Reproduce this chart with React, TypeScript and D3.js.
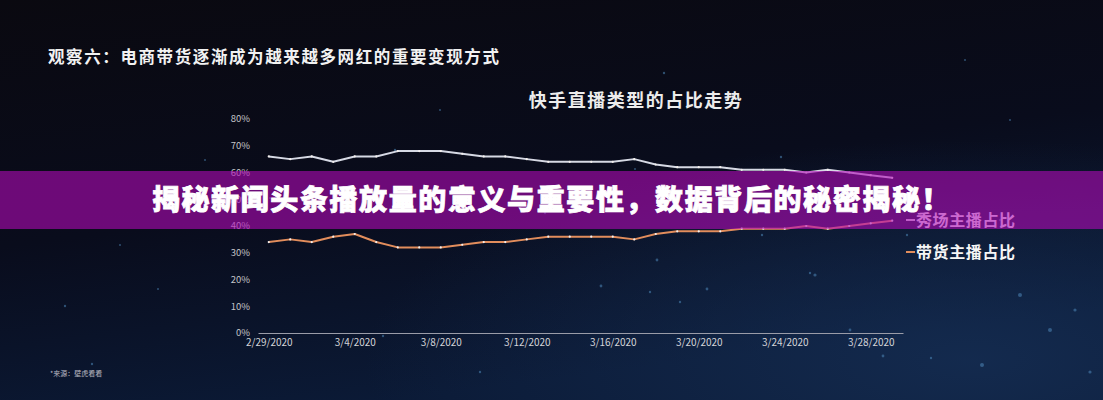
import { useEffect, useRef } from 'react';
import * as d3 from 'd3';

// 日期（2/29/2020 - 3/29/2020）
const dates = [
  '2020-02-29', '2020-03-01', '2020-03-02', '2020-03-03', '2020-03-04', '2020-03-05',
  '2020-03-06', '2020-03-07', '2020-03-08', '2020-03-09', '2020-03-10', '2020-03-11',
  '2020-03-12', '2020-03-13', '2020-03-14', '2020-03-15', '2020-03-16', '2020-03-17',
  '2020-03-18', '2020-03-19', '2020-03-20', '2020-03-21', '2020-03-22', '2020-03-23',
  '2020-03-24', '2020-03-25', '2020-03-26', '2020-03-27', '2020-03-28', '2020-03-29',
];

// 秀场主播占比 (%)
const showHostShare = [
  66, 65, 66, 64, 66, 66, 68, 68, 68, 67, 66, 66, 65, 64, 64,
  64, 64, 65, 63, 62, 62, 62, 61, 61, 61, 60, 61, 60, 59, 58,
];

// 带货主播占比 (%)
const salesHostShare = [
  34, 35, 34, 36, 37, 34, 32, 32, 32, 33, 34, 34, 35, 36, 36,
  36, 36, 35, 37, 38, 38, 38, 39, 39, 39, 40, 39, 40, 41, 42,
];

const yTicks = [0, 10, 20, 30, 40, 50, 60, 70, 80];
const xTickEvery = 4;

const seriesNames = ['秀场主播占比', '带货主播占比'];

const titleText = '观察六：电商带货逐渐成为越来越多网红的重要变现方式';
const chartTitle = '快手直播类型的占比走势';
const bannerText = '揭秘新闻头条播放量的意义与重要性，数据背后的秘密揭秘！';
const sourceText = '*来源：壁虎看看';

// 背景装饰星点（仅装饰）
const stars: [number, number, number][] = [
  [395, 150, 1.2], [573, 93, 1], [664, 73, 1.2], [781, 157, 1.2], [635, 169, 1],
  [545, 213, 1.2], [657, 260, 1.4], [601, 286, 1.4], [650, 292, 1.2], [762, 235, 1.2],
  [815, 275, 1.6], [810, 273, 1.2], [680, 302, 1.2], [707, 289, 1.4], [907, 235, 1.2],
  [883, 356, 1.4], [931, 358, 1.2], [1020, 295, 2], [1050, 330, 2], [982, 365, 2],
  [1075, 310, 1.6], [1090, 372, 1.6], [120, 245, 1], [158, 289, 1], [65, 306, 1.2],
  [92, 364, 1.2], [383, 336, 1.2], [270, 198, 1], [440, 110, 1], [205, 160, 1],
  [1010, 120, 1], [965, 60, 1], [1000, 220, 1.2], [850, 330, 1.4], [480, 372, 1.2],
];

const FONT = '"Noto Sans CJK SC", "Noto Sans", sans-serif';

export default function App() {
  const svgRef = useRef<SVGSVGElement>(null);

  useEffect(() => {
    if (!svgRef.current) return;
    const W = 1103;
    const H = 400;

    d3.select(svgRef.current).selectAll('*').remove();
    const svg = d3.select(svgRef.current).attr('width', W).attr('height', H);

    const defs = svg.append('defs');
    const bgGrad = defs.append('linearGradient')
      .attr('id', 'bg')
      .attr('x1', 0).attr('y1', 0).attr('x2', 0.35).attr('y2', 1);
    bgGrad.append('stop').attr('offset', '0%').attr('stop-color', '#0a0910');
    bgGrad.append('stop').attr('offset', '55%').attr('stop-color', '#090c1c');
    bgGrad.append('stop').attr('offset', '100%').attr('stop-color', '#0b1a36');

    const glow = defs.append('radialGradient')
      .attr('id', 'glow')
      .attr('cx', 0.88).attr('cy', 0.9).attr('r', 0.55);
    glow.append('stop').attr('offset', '0%').attr('stop-color', '#173158').attr('stop-opacity', 0.7);
    glow.append('stop').attr('offset', '100%').attr('stop-color', '#173158').attr('stop-opacity', 0);

    svg.append('rect').attr('width', W).attr('height', H).attr('fill', 'url(#bg)');
    svg.append('rect').attr('width', W).attr('height', H).attr('fill', 'url(#glow)');

    svg.append('g')
      .selectAll('circle')
      .data(stars)
      .enter()
      .append('circle')
      .attr('cx', d => d[0])
      .attr('cy', d => d[1])
      .attr('r', d => d[2])
      .attr('fill', '#4f86b8')
      .attr('opacity', 0.55);

    // 标题
    svg.append('text')
      .attr('x', 48)
      .attr('y', 63)
      .attr('fill', '#f2f2f2')
      .attr('font-family', FONT)
      .attr('font-weight', 700)
      .attr('font-size', 16.5)
      .attr('letter-spacing', 1.6)
      .text(titleText);

    svg.append('text')
      .attr('x', 636)
      .attr('y', 107)
      .attr('text-anchor', 'middle')
      .attr('fill', '#ececec')
      .attr('font-family', FONT)
      .attr('font-weight', 700)
      .attr('font-size', 18)
      .attr('letter-spacing', 1.5)
      .text(chartTitle);

    // 比例尺
    const parse = d3.timeParse('%Y-%m-%d');
    const days = dates.map(d => parse(d) as Date);
    const half = 12 * 3600 * 1000;
    const x = d3.scaleTime()
      .domain([new Date(days[0].getTime() - half), new Date(days[days.length - 1].getTime() + half)])
      .range([258, 903]);
    const y = d3.scaleLinear().domain([0, 80]).range([333, 119]);

    // Y 轴标签
    svg.append('g')
      .selectAll('text')
      .data(yTicks)
      .enter()
      .append('text')
      .attr('x', 250)
      .attr('y', d => y(d))
      .attr('dy', '0.35em')
      .attr('text-anchor', 'end')
      .attr('fill', '#c4c4c8')
      .attr('font-family', FONT)
      .attr('font-size', 9.5)
      .text(d => `${d}%`);

    // X 轴
    const xAxis = svg.append('g')
      .attr('transform', 'translate(0,333)')
      .call(
        d3.axisBottom(x)
          .tickValues(days.filter((_, i) => i % xTickEvery === 0))
          .tickSize(0)
          .tickSizeOuter(0)
          .tickPadding(6)
          .tickFormat(d => {
            const dt = d as Date;
            return `${dt.getMonth() + 1}/${dt.getDate()}/${dt.getFullYear()}`;
          })
      );
    xAxis.select('.domain').attr('stroke', '#9a9ca8').attr('stroke-width', 1.2);
    xAxis.selectAll('text')
      .attr('fill', '#d4d4d8')
      .attr('font-family', FONT)
      .attr('font-size', 10);

    // 折线
    const drawSeries = (values: number[], color: string) => {
      const pts = values.map((v, i) => ({ date: days[i], value: v }));
      const line = d3.line<typeof pts[0]>()
        .x(d => x(d.date))
        .y(d => y(d.value))
        .curve(d3.curveLinear);
      svg.append('path')
        .datum(pts)
        .attr('fill', 'none')
        .attr('stroke', color)
        .attr('stroke-width', 2)
        .attr('stroke-linejoin', 'round')
        .attr('d', line);
      svg.append('g')
        .selectAll('circle')
        .data(pts)
        .enter()
        .append('circle')
        .attr('cx', d => x(d.date))
        .attr('cy', d => y(d.value))
        .attr('r', 1.1)
        .attr('fill', '#f4f0ee');
    };

    const colors = ['#d6d9e4', '#e28d5c'];
    drawSeries(showHostShare, colors[0]);
    drawSeries(salesHostShare, colors[1]);

    // 图例（右端标注）
    const legendY = [220, 252];
    seriesNames.forEach((name, i) => {
      const g = svg.append('g').attr('transform', `translate(906,${legendY[i]})`);
      g.append('line')
        .attr('x1', 0).attr('x2', 9)
        .attr('y1', 0).attr('y2', 0)
        .attr('stroke', colors[i])
        .attr('stroke-width', 2);
      g.append('text')
        .attr('x', 10)
        .attr('dy', '0.36em')
        .attr('fill', '#f6f6f6')
        .attr('font-family', FONT)
        .attr('font-weight', 700)
        .attr('font-size', 16)
        .attr('letter-spacing', 0.6)
        .text(name);
    });

    // 来源
    svg.append('text')
      .attr('x', 50)
      .attr('y', 376)
      .attr('fill', '#b8b8c0')
      .attr('font-family', FONT)
      .attr('font-size', 7)
      .text(sourceText);

    // 横幅
    svg.append('rect')
      .attr('x', 0)
      .attr('y', 171)
      .attr('width', W)
      .attr('height', 58)
      .attr('fill', 'rgb(177,10,183)')
      .attr('opacity', 0.6);

    svg.append('text')
      .attr('x', W / 2)
      .attr('y', 200)
      .attr('dy', '0.36em')
      .attr('text-anchor', 'middle')
      .attr('fill', '#ffffff')
      .attr('stroke', '#ffffff')
      .attr('stroke-width', 0.8)
      .attr('font-family', FONT)
      .attr('font-weight', 900)
      .attr('font-size', 28)
      .attr('letter-spacing', 1.6)
      .text(bannerText);
  }, []);

  return (
    <div style={{ position: 'absolute', left: 0, top: 0, width: 1103, height: 400, overflow: 'hidden' }}>
      <svg ref={svgRef} style={{ display: 'block' }} />
    </div>
  );
}
